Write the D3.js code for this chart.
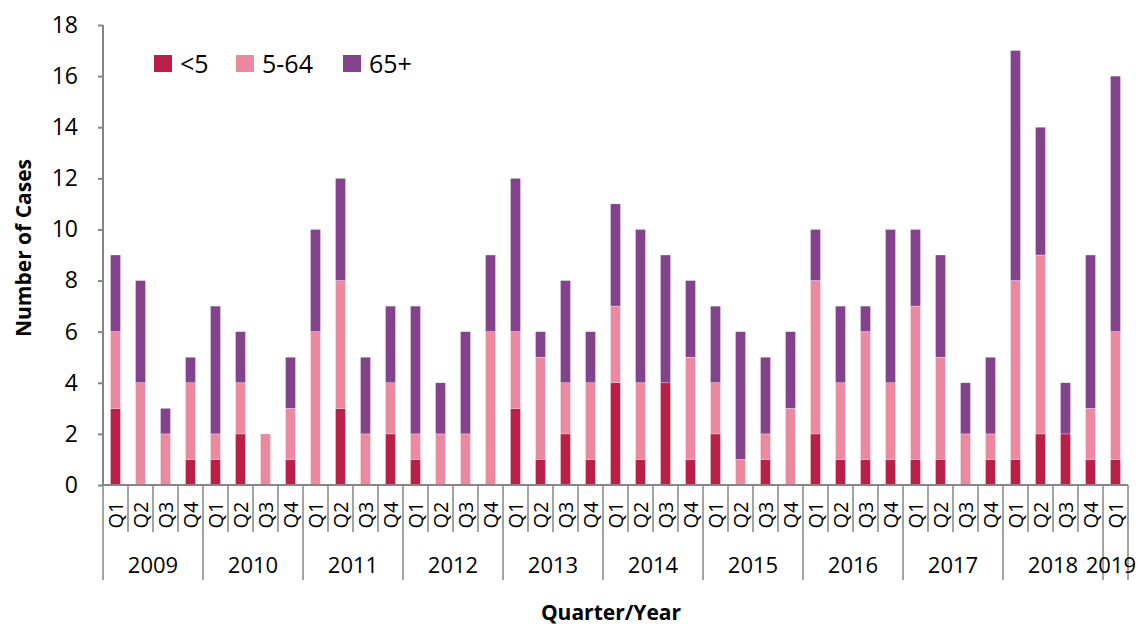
<!DOCTYPE html>
<html>
<head>
<meta charset="utf-8">
<script src="https://cdn.jsdelivr.net/npm/d3@7"></script>
<style>
  body { margin: 0; background: #fff; }
  text { font-family: "Open Sans", Lato, sans-serif; fill: #000; }
</style>
</head>
<body>
<div id="chart"></div>
<script>
const width = 1138;
const height = 628;

// quarters from 2009 Q1 to 2019 Q1
const quarters = [
  "2009-Q1","2009-Q2","2009-Q3","2009-Q4",
  "2010-Q1","2010-Q2","2010-Q3","2010-Q4",
  "2011-Q1","2011-Q2","2011-Q3","2011-Q4",
  "2012-Q1","2012-Q2","2012-Q3","2012-Q4",
  "2013-Q1","2013-Q2","2013-Q3","2013-Q4",
  "2014-Q1","2014-Q2","2014-Q3","2014-Q4",
  "2015-Q1","2015-Q2","2015-Q3","2015-Q4",
  "2016-Q1","2016-Q2","2016-Q3","2016-Q4",
  "2017-Q1","2017-Q2","2017-Q3","2017-Q4",
  "2018-Q1","2018-Q2","2018-Q3","2018-Q4",
  "2019-Q1"
];
const years = ["2009","2010","2011","2012","2013","2014","2015","2016","2017","2018","2019"];

const under5 =    [3,0,0,1, 1,2,0,1, 0,3,0,2, 1,0,0,0, 3,1,2,1, 4,1,4,1, 2,0,1,0, 2,1,1,1, 1,1,0,1, 1,2,2,1, 1];
const age5to64 =  [3,4,2,3, 1,2,2,2, 6,5,2,2, 1,2,2,6, 3,4,2,3, 3,3,0,4, 2,1,1,3, 6,3,5,3, 6,4,2,1, 7,7,0,2, 5];
const age65plus = [3,4,1,1, 5,2,0,2, 4,4,3,3, 5,2,4,3, 6,1,4,2, 4,6,5,3, 3,5,3,3, 2,3,1,6, 3,4,2,3, 9,5,2,6, 10];

const seriesNames = ["<5", "5-64", "65+"];
const seriesColors = ["#BA1F48", "#EB89A0", "#84428C"];
const yTicks = [0,2,4,6,8,10,12,14,16,18];

const rows = quarters.map((q, i) => ({
  key: q,
  year: q.slice(0, 4),
  quarter: q.slice(5),
  "<5": under5[i],
  "5-64": age5to64[i],
  "65+": age65plus[i]
}));

const margin = { top: 25, right: 10, bottom: 143, left: 103 };
const plotRight = 1128;

const svg = d3.select("#chart")
  .append("svg")
  .attr("width", width)
  .attr("height", height);

const x = d3.scaleBand()
  .domain(quarters)
  .range([margin.left, plotRight])
  .paddingInner(0.6)
  .paddingOuter(0.3);

const step = (plotRight - margin.left) / quarters.length;

const y = d3.scaleLinear()
  .domain([0, 18])
  .range([height - margin.bottom, margin.top]);

const axisColor = "#868686";

// stacked bars
const stacked = d3.stack().keys(seriesNames)(rows);

svg.append("g")
  .selectAll("g")
  .data(stacked)
  .join("g")
  .attr("fill", (d, i) => seriesColors[i])
  .selectAll("rect")
  .data(d => d)
  .join("rect")
  .attr("x", d => x(d.data.key))
  .attr("width", x.bandwidth())
  .attr("y", d => y(d[1]))
  .attr("height", d => y(d[0]) - y(d[1]))
  .attr("stroke", "#fff")
  .attr("stroke-width", 0.5)
  .attr("stroke-opacity", 0.6);

// y axis
const yAxis = svg.append("g")
  .attr("transform", `translate(${margin.left},0)`)
  .call(d3.axisLeft(y).tickValues(yTicks).tickSize(5).tickPadding(20));

yAxis.select(".domain").attr("stroke", axisColor).attr("stroke-width", 2)
  .attr("d", `M0,${y(18)}V${y(0)}`);
yAxis.selectAll(".tick line").attr("stroke", axisColor).attr("stroke-width", 2);
yAxis.selectAll(".tick text")
  .style("font-size", "23px")
  .style("font-family", "'Open Sans', sans-serif")
  .attr("fill", "#000");

// x axis: multi-level category axis
const xAxis = svg.append("g");
const base = y(0);

xAxis.append("line")
  .attr("x1", margin.left).attr("x2", plotRight)
  .attr("y1", base).attr("y2", base)
  .attr("stroke", axisColor).attr("stroke-width", 2);

// separators
d3.range(quarters.length + 1).forEach(i => {
  const isYear = i % 4 === 0 || i === quarters.length;
  const xp = margin.left + i * step;
  xAxis.append("line")
    .attr("x1", xp).attr("x2", xp)
    .attr("y1", base).attr("y2", isYear ? 580 : 532)
    .attr("stroke", axisColor).attr("stroke-width", 1.5);
});

// quarter labels
xAxis.selectAll("text.q")
  .data(rows)
  .join("text")
  .attr("class", "q")
  .attr("transform", d => `translate(${x(d.key) + x.bandwidth() / 2},515) rotate(-90)`)
  .attr("text-anchor", "middle")
  .attr("dy", "0.36em")
  .style("font-size", "20px")
  .text(d => d.quarter);

// year labels
const yearLabels = xAxis.selectAll("text.y")
  .data(years)
  .join("text")
  .attr("class", "y")
  .attr("x", yr => {
    const idx = rows.map(r => r.year).reduce((a, v, i) => v === yr ? a.concat(i) : a, []);
    const x0 = margin.left + idx[0] * step;
    const x1 = margin.left + (idx[idx.length - 1] + 1) * step;
    return (x0 + x1) / 2;
  })
  .attr("y", 565)
  .attr("text-anchor", "middle")
  .attr("dy", "0.36em")
  .style("font-size", "22px")
  .text(yr => yr);

// keep the last year label inside the picture
yearLabels.each(function() {
  const el = d3.select(this);
  const half = this.getComputedTextLength() / 2;
  const cx = +el.attr("x");
  if (cx + half > width - 2) el.attr("x", width - 2 - half);
});

// axis titles
svg.append("text")
  .attr("transform", `translate(31,248) rotate(-90)`)
  .attr("text-anchor", "middle")
  .style("font-size", "21px")
  .style("font-weight", "bold")
  .text("Number of Cases");

svg.append("text")
  .attr("x", 611)
  .attr("y", 620)
  .attr("text-anchor", "middle")
  .style("font-size", "21px")
  .style("font-weight", "bold")
  .text("Quarter/Year");

// legend
const legendX = [154, 236, 343];
const legend = svg.append("g")
  .selectAll("g")
  .data(seriesNames)
  .join("g")
  .attr("transform", (d, i) => `translate(${legendX[i]},55)`);

legend.append("rect")
  .attr("width", 18)
  .attr("height", 17)
  .attr("fill", (d, i) => seriesColors[i]);

legend.append("text")
  .attr("x", 26)
  .attr("y", 18)
  .style("font-size", "25px")
  .text(d => d);
</script>
</body>
</html>
